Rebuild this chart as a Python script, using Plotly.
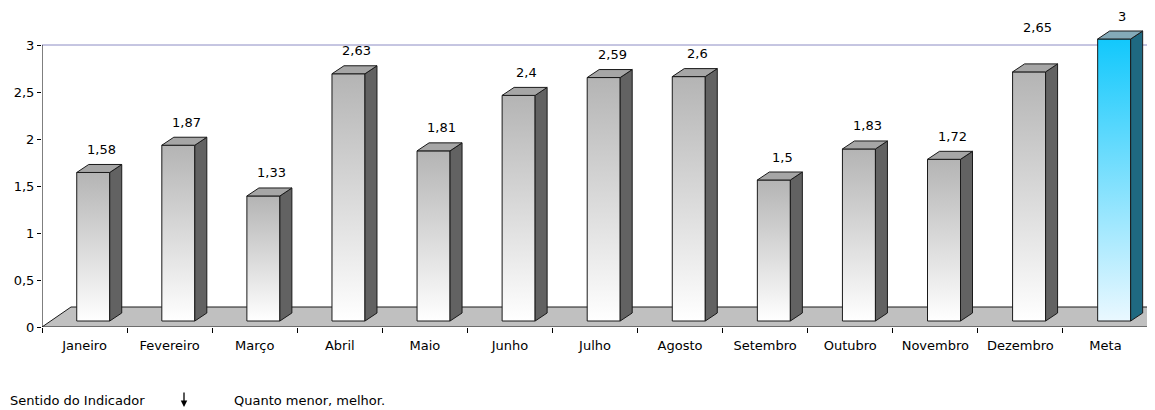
import plotly.graph_objects as go

# ---------------- data ----------------
months = ["Janeiro", "Fevereiro", "Março", "Abril", "Maio", "Junho", "Julho",
          "Agosto", "Setembro", "Outubro", "Novembro", "Dezembro", "Meta"]
values = [1.58, 1.87, 1.33, 2.63, 1.81, 2.4, 2.59, 2.6, 1.5, 1.83, 1.72, 2.65, 3]
value_labels = ["1,58", "1,87", "1,33", "2,63", "1,81", "2,4", "2,59", "2,6",
                "1,5", "1,83", "1,72", "2,65", "3"]
y_ticks = [0, 0.5, 1, 1.5, 2, 2.5, 3]
y_tick_labels = ["0", "0,5", "1", "1,5", "2", "2,5", "3"]
target_value = 3
highlight = "Meta"
footer_left = "Sentido do Indicador"
footer_right = "Quanto menor, melhor."

# ---------------- layout / style ----------------
# the page body has an 8px margin, so figure pixels = page pixels - 8
OFF = 8
W, H = 1155 - OFF, 410 - OFF
ML, MR, MT = 42 - OFF, 0, 8 - OFF
Y0_PAGE = 327
MB = H - (Y0_PAGE - OFF)
FONT = "DejaVu Sans"
FS = 13
n = len(months)
plot_w = W - ML - MR
extra_right_px = 7
slot_px = (plot_w - extra_right_px) / n
x_lo, x_hi = -0.5, n - 0.5
x_max = x_hi + extra_right_px / slot_px
py_per_unit = 94.0
y_max = (H - MT - MB) / py_per_unit


def dx(p):
    return p / slot_px


def dy(p):
    return p / py_per_unit


FLOOR_DX, FLOOR_DY = 29, 20        # floor depth (px)
BAR_OFF_X, BAR_OFF_Y = 8.7, 6      # bar front position inside floor depth (px)
BAR_DX, BAR_DY = 12, 8             # bar depth (px)
BAR_W = 33                         # bar front width (px)
label_extra_lift = {"Dezembro": 21}

gray_style = dict(top="#b4b4b4", bottom="#ffffff", side="#626262", cap="#a6a6a6")
blue_style = dict(top="#12c8fc", bottom="#eaf8ff", side="#1f6981", cap="#84aab8")
EDGE = "#1a1a1a"

fig = go.Figure()

# floor
fx = [x_lo, x_hi, x_hi + dx(FLOOR_DX), x_lo + dx(FLOOR_DX), x_lo]
fy = [0, 0, dy(FLOOR_DY), dy(FLOOR_DY), 0]
fig.add_trace(go.Scatter(x=fx, y=fy, mode="lines", fill="toself",
                         fillcolor="#c0c0c0", line=dict(color=EDGE, width=1),
                         hoverinfo="skip", showlegend=False))

# bars
for i, (m, v) in enumerate(zip(months, values)):
    st = blue_style if m == highlight else gray_style
    L = i + dx(BAR_OFF_X - BAR_W / 2)
    R = i + dx(BAR_OFF_X + BAR_W / 2)
    b = dy(BAR_OFF_Y)
    t = b + v
    ddx, ddy = dx(BAR_DX), dy(BAR_DY)
    # front face with vertical gradient
    fig.add_trace(go.Scatter(
        x=[L, R, R, L, L], y=[b, b, t, t, b], mode="lines", fill="toself",
        fillgradient=dict(type="vertical", start=b, stop=t,
                          colorscale=[[0, st["bottom"]], [1, st["top"]]]),
        line=dict(color=EDGE, width=1), hoverinfo="skip", showlegend=False))
    # side face
    fig.add_trace(go.Scatter(
        x=[R, R + ddx, R + ddx, R, R], y=[b, b + ddy, t + ddy, t, b],
        mode="lines", fill="toself", fillcolor=st["side"],
        line=dict(color=EDGE, width=1), hoverinfo="skip", showlegend=False))
    # top face
    fig.add_trace(go.Scatter(
        x=[L, R, R + ddx, L + ddx, L], y=[t, t, t + ddy, t + ddy, t],
        mode="lines", fill="toself", fillcolor=st["cap"],
        line=dict(color=EDGE, width=1), hoverinfo="skip", showlegend=False))
    fig.add_annotation(x=i, y=t, xref="x", yref="y", text=value_labels[i],
                       showarrow=False, xshift=17,
                       yshift=23 + label_extra_lift.get(m, 0),
                       font=dict(family=FONT, size=FS, color="#000"))

# target line and y axis line
fig.add_shape(type="line", xref="x", yref="y", x0=x_lo, x1=x_hi,
              y0=target_value, y1=target_value,
              line=dict(color="#8c8cc4", width=1), layer="below")
fig.add_shape(type="line", xref="x", yref="y", x0=x_lo, x1=x_lo,
              y0=0, y1=y_ticks[-1], line=dict(color="#000", width=1))


# footer (positions given in page pixels)
def px_to_paper(px, py):
    fxp, fyp = px - OFF, py - OFF
    return (fxp - ML) / plot_w, (H - MB - fyp) / (H - MT - MB)


ax_, ay_ = px_to_paper(OFF, 400)
fig.add_annotation(x=ax_, y=ay_, xref="paper", yref="paper", text=footer_left,
                   showarrow=False, xanchor="left", yanchor="middle",
                   font=dict(family=FONT, size=FS, color="#000"))
ax_, ay_ = px_to_paper(232, 400)
fig.add_annotation(x=ax_, y=ay_, xref="paper", yref="paper", text=footer_right,
                   showarrow=False, xanchor="left", yanchor="middle",
                   font=dict(family=FONT, size=FS, color="#000"))
ax_, ay_ = px_to_paper(184, 407)
fig.add_annotation(x=ax_, y=ay_, xref="paper", yref="paper", text="",
                   showarrow=True, ax=0, ay=-16, arrowhead=2, arrowsize=1,
                   arrowwidth=1.3, arrowcolor="#000")

boundaries = [k - 0.5 for k in range(n + 1)]
fig.update_layout(
    width=W, height=H, margin=dict(l=ML, r=MR, t=MT, b=MB, pad=0),
    paper_bgcolor="white", plot_bgcolor="white", showlegend=False,
    font=dict(family=FONT, size=FS, color="#000"),
    xaxis=dict(range=[x_lo, x_max], tickmode="array", tickvals=list(range(n)),
               ticktext=months, ticks="", showgrid=False, zeroline=False,
               showline=False, ticklabelstandoff=9,
               minor=dict(tickmode="array", tickvals=boundaries, ticks="outside",
                          ticklen=5, tickcolor="#000", tickwidth=1, showgrid=False)),
    yaxis=dict(range=[0, y_max], tickmode="array", tickvals=y_ticks,
               ticktext=y_tick_labels, ticks="outside", ticklen=4,
               tickcolor="#000", showgrid=False, zeroline=False, showline=False),
)

fig.write_html("out.html")
